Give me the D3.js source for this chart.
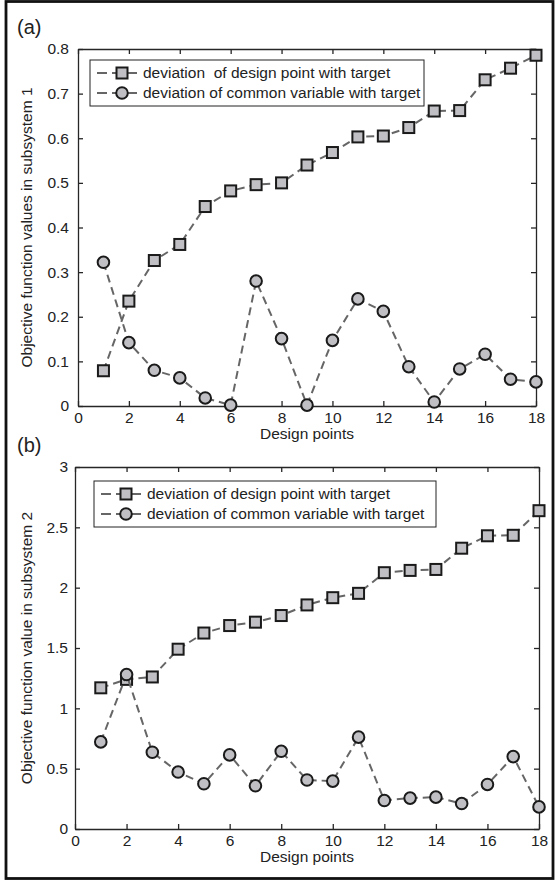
<!DOCTYPE html>
<html lang="en">
  <head>
    <meta charset="utf-8" />
    <script src="https://cdn.jsdelivr.net/npm/d3@7/dist/d3.min.js"></script>
    <style>
      body { margin: 0; background: #fff; }
      text { font-family: "Liberation Sans", Arial, sans-serif; fill: #222; }
      .axis path, .axis line { stroke: #262626; stroke-width: 1.3; }
      .axis text { font-size: 15.5px; fill: #222; }
    </style>
  </head>
  <body>
    <div id="container"></div>
    <script>
      // data
      const designPoints = [1, 2, 3, 4, 5, 6, 7, 8, 9, 10, 11, 12, 13, 14, 15, 16, 17, 18];
      const sub1Design = [0.079, 0.235, 0.326, 0.362, 0.447, 0.482, 0.496, 0.5, 0.54, 0.568, 0.603, 0.605, 0.624, 0.661, 0.662, 0.731, 0.757, 0.786];
      const sub1Common = [0.322, 0.142, 0.08, 0.063, 0.018, 0.002, 0.28, 0.151, 0.002, 0.147, 0.24, 0.212, 0.088, 0.009, 0.083, 0.116, 0.06, 0.054];
      const sub2Design = [1.17, 1.24, 1.26, 1.49, 1.624, 1.686, 1.714, 1.769, 1.857, 1.917, 1.953, 2.124, 2.143, 2.151, 2.327, 2.43, 2.434, 2.638];
      const sub2Common = [0.722, 1.28, 0.636, 0.472, 0.375, 0.614, 0.358, 0.644, 0.406, 0.397, 0.761, 0.236, 0.256, 0.264, 0.211, 0.369, 0.6, 0.183];
      const xTicks = [0, 2, 4, 6, 8, 10, 12, 14, 16, 18];
      const yTicks1 = [0, 0.1, 0.2, 0.3, 0.4, 0.5, 0.6, 0.7, 0.8];
      const yTicks2 = [0, 0.5, 1, 1.5, 2, 2.5, 3];
      const legendLabels1 = ["deviation  of design point with target", "deviation of common variable with target"];
      const legendLabels2 = ["deviation of design point with target", "deviation of common variable with target"];

      const width = 555, height = 881;
      const svg = d3.select("#container").append("svg").attr("width", width).attr("height", height);

      // outer frame
      svg.append("rect").attr("x", 6).attr("y", 1.5).attr("width", 547).attr("height", 877)
        .attr("fill", "none").attr("stroke", "#111").attr("stroke-width", 2.8);

      const panels = [
        { tag: "(a)", tagY: 27, left: 78, right: 536, top: 49, bottom: 406, yMax: 0.8, yTicks: yTicks1,
          fmt: d3.format(".1~f"), ylabel: "Objective function values in subsystem 1",
          s1: sub1Design, s2: sub1Common, legend: legendLabels1, lx: 90, ly: 60, lw: 334, tickPad: 9 },
        { tag: "(b)", tagY: 445, left: 75, right: 539, top: 467, bottom: 829, yMax: 3, yTicks: yTicks2,
          fmt: d3.format("~g"), ylabel: "Objective function value in subsystem 2",
          s1: sub2Design, s2: sub2Common, legend: legendLabels2, lx: 94, ly: 481, lw: 342, tickPad: 7 }
      ];

      function drawMarker(g, shape, x, y) {
        if (shape === "square") {
          g.append("rect").attr("x", x - 5.5).attr("y", y - 5.5).attr("width", 11).attr("height", 11)
            .attr("fill", "#c0c0c4").attr("stroke", "#1a1a1a").attr("stroke-width", 2);
        } else {
          g.append("circle").attr("cx", x).attr("cy", y).attr("r", 5.8)
            .attr("fill", "#c0c0c4").attr("stroke", "#1a1a1a").attr("stroke-width", 2);
        }
      }

      panels.forEach(p => {
        const x = d3.scaleLinear().domain([0, 18]).range([p.left, p.right]);
        const y = d3.scaleLinear().domain([0, p.yMax]).range([p.bottom, p.top]);
        const g = svg.append("g");

        g.append("text").attr("x", 17).attr("y", p.tagY).attr("dy", "0.35em")
          .style("font-size", "20px").text(p.tag);

        // axes (ticks inward, box on)
        g.append("g").attr("class", "axis").attr("transform", `translate(0,${p.bottom})`)
          .call(d3.axisBottom(x).tickValues(xTicks).tickSize(-5).tickSizeOuter(0).tickPadding(6));
        g.append("g").attr("class", "axis").attr("transform", `translate(0,${p.top})`)
          .call(d3.axisTop(x).tickValues(xTicks).tickSize(-5).tickSizeOuter(0).tickFormat(""));
        g.append("g").attr("class", "axis").attr("transform", `translate(${p.left},0)`)
          .call(d3.axisLeft(y).tickValues(p.yTicks).tickSize(-5).tickSizeOuter(0).tickPadding(p.tickPad).tickFormat(p.fmt));
        g.append("g").attr("class", "axis").attr("transform", `translate(${p.right},0)`)
          .call(d3.axisRight(y).tickValues(p.yTicks).tickSize(-5).tickSizeOuter(0).tickFormat(""));

        g.append("text").attr("x", (p.left + p.right) / 2).attr("y", p.bottom + 28).attr("dy", "0.35em")
          .attr("text-anchor", "middle").style("font-size", "15.5px").text("Design points");
        g.append("text").attr("transform", `translate(27,${(p.top + p.bottom) / 2}) rotate(-90)`)
          .attr("dy", "0.35em").attr("text-anchor", "middle").style("font-size", "15.5px").text(p.ylabel);

        const line = d3.line().x((d, i) => x(designPoints[i])).y(d => y(d));
        [[p.s1, "square"], [p.s2, "circle"]].forEach(([vals, shape]) => {
          const sg = g.append("g");
          sg.append("path").datum(vals).attr("d", line).attr("fill", "none")
            .attr("stroke", "#666").attr("stroke-width", 2).attr("stroke-dasharray", "8,5");
          vals.forEach((v, i) => drawMarker(sg, shape, x(designPoints[i]), y(v)));
        });

        // legend
        const lg = g.append("g");
        lg.append("rect").attr("x", p.lx).attr("y", p.ly).attr("width", p.lw).attr("height", 46)
          .attr("fill", "#fff").attr("stroke", "#222").attr("stroke-width", 1);
        p.legend.forEach((lab, i) => {
          const cy = p.ly + 13 + i * 20;
          const mx = p.lx + 32;
          lg.append("line").attr("x1", p.lx + 7).attr("x2", p.lx + 50).attr("y1", cy).attr("y2", cy)
            .attr("stroke", "#666").attr("stroke-width", 2).attr("stroke-dasharray", "10,5");
          drawMarker(lg, i === 0 ? "square" : "circle", mx, cy);
          lg.append("text").attr("x", p.lx + 53).attr("y", cy).attr("dy", "0.35em")
            .style("font-size", "15.5px").style("white-space", "pre").text(lab);
        });
      });
    </script>
  </body>
</html>
